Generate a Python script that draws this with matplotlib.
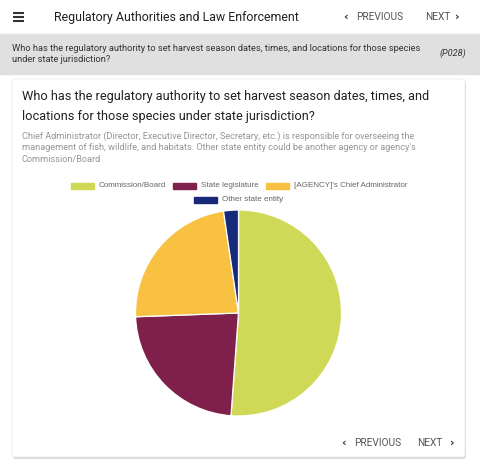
import matplotlib.pyplot as plt
from matplotlib.patches import FancyBboxPatch, Rectangle

# Chart data
labels = ["Commission/Board", "State legislature", "[AGENCY]'s Chief Administrator", "Other state entity"]
counts = [22, 10, 10, 1]
colors = ["#d0d957", "#7f1f4b", "#f8c142", "#172a7a"]

header_title = "Regulatory Authorities and Law Enforcement"
question = ("Who has the regulatory authority to set harvest season dates, times, and locations for those species\n"
            "under state jurisdiction?")
question_code = "(P028)"
card_title = ("Who has the regulatory authority to set harvest season dates, times, and\n"
              "locations for those species under state jurisdiction?")
card_note = ("Chief Administrator (Director, Executive Director, Secretary, etc.) is responsible for overseeing the\n"
             "management of fish, wildlife, and habitats. Other state entity could be another agency or agency's\n"
             "Commission/Board")

W, H = 480, 467
fig = plt.figure(figsize=(W / 100, H / 100), dpi=100)
bg = fig.add_axes([0, 0, 1, 1])
bg.set_xlim(0, W)
bg.set_ylim(H, 0)
bg.axis("off")
renderer = fig.canvas.get_renderer()

ui_font = "Roboto"
txt = "#212121"
nav_col = "#555555"


def nav(x_prev_chev, x_prev, x_next, x_next_chev, y):
    bg.text(x_prev_chev, y - 0.5, "‹", fontsize=8, color="#333333", va="center", ha="center",
            family="DejaVu Sans", weight="bold", zorder=3)
    bg.text(x_prev, y, "PREVIOUS", fontsize=7.3, family=ui_font, color=nav_col, va="center", zorder=3)
    bg.text(x_next, y, "NEXT", fontsize=7.3, family=ui_font, color=nav_col, va="center", zorder=3)
    bg.text(x_next_chev, y - 0.5, "›", fontsize=8, color="#333333", va="center", ha="center",
            family="DejaVu Sans", weight="bold", zorder=3)


# top bar
bg.add_patch(Rectangle((0, 0), W, 34, color="white", zorder=0))
for y in (12.5, 16.5, 20.5):
    bg.plot([13, 24], [y, y], color="#333333", lw=1.5, solid_capstyle="butt")
bg.text(54, 17.5, header_title, fontsize=8.9, family=ui_font, color=txt, va="center")
nav(345, 356, 425, 457, 17.5)

# grey question band
bg.add_patch(Rectangle((0, 34), W, 40, color="#e0e0e0", zorder=0))
bg.text(12, 54, question, fontsize=6.7, family=ui_font, color="#333333", va="center", linespacing=1.2)
bg.text(466, 53.5, question_code, fontsize=6.6, family=ui_font, color="#333333", va="center",
        ha="right", style="italic")

# card with soft shadow
bg.add_patch(FancyBboxPatch((13, 81), 453, 378, boxstyle="round,pad=0,rounding_size=3",
                            facecolor="#d9d9d9", edgecolor="none", zorder=1))
bg.add_patch(FancyBboxPatch((12, 79), 453, 378, boxstyle="round,pad=0,rounding_size=3",
                            facecolor="white", edgecolor="#ececec", lw=0.6, zorder=2))

bg.text(22, 106.5, card_title, fontsize=9.2, family=ui_font, color=txt, va="center",
        linespacing=1.75, zorder=3)
bg.text(22, 147.5, card_note, fontsize=6.6, family=ui_font, color="#959595", va="center",
        linespacing=1.38, zorder=3)

# legend (two rows, centred)
leg_rows = [[0, 1, 2], [3]]
leg_y = [185.5, 199.5]
sw_w, gap, item_gap = 23, 5, 7
leg_fs = 5.75
for row, y in zip(leg_rows, leg_y):
    items = []
    for i in row:
        t = bg.text(0, y, labels[i], fontsize=leg_fs, family="Liberation Sans",
                    color="#666666", va="center", zorder=3)
        tw = t.get_window_extent(renderer).width
        items.append((i, t, tw))
    total = sum(sw_w + gap + tw for _, _, tw in items) + item_gap * (len(items) - 1)
    x = 239 - total / 2
    for i, t, tw in items:
        bg.add_patch(Rectangle((x, y - 3), sw_w, 6, color=colors[i], zorder=3))
        t.set_x(x + sw_w + gap)
        x += sw_w + gap + tw + item_gap

# bottom nav
nav(343, 354, 417, 452, 443)

# pie
cx, cy, r = 238.5, 313, 103
pax = fig.add_axes([(cx - r) / W, (H - cy - r) / H, 2 * r / W, 2 * r / H])
pax.pie(counts, colors=colors, startangle=90, counterclock=False, radius=1,
        wedgeprops=dict(edgecolor="white", linewidth=0.9))
pax.set_xlim(-1, 1)
pax.set_ylim(-1, 1)
pax.set_aspect("auto")
pax.axis("off")

fig.savefig("out.png", dpi=100)
